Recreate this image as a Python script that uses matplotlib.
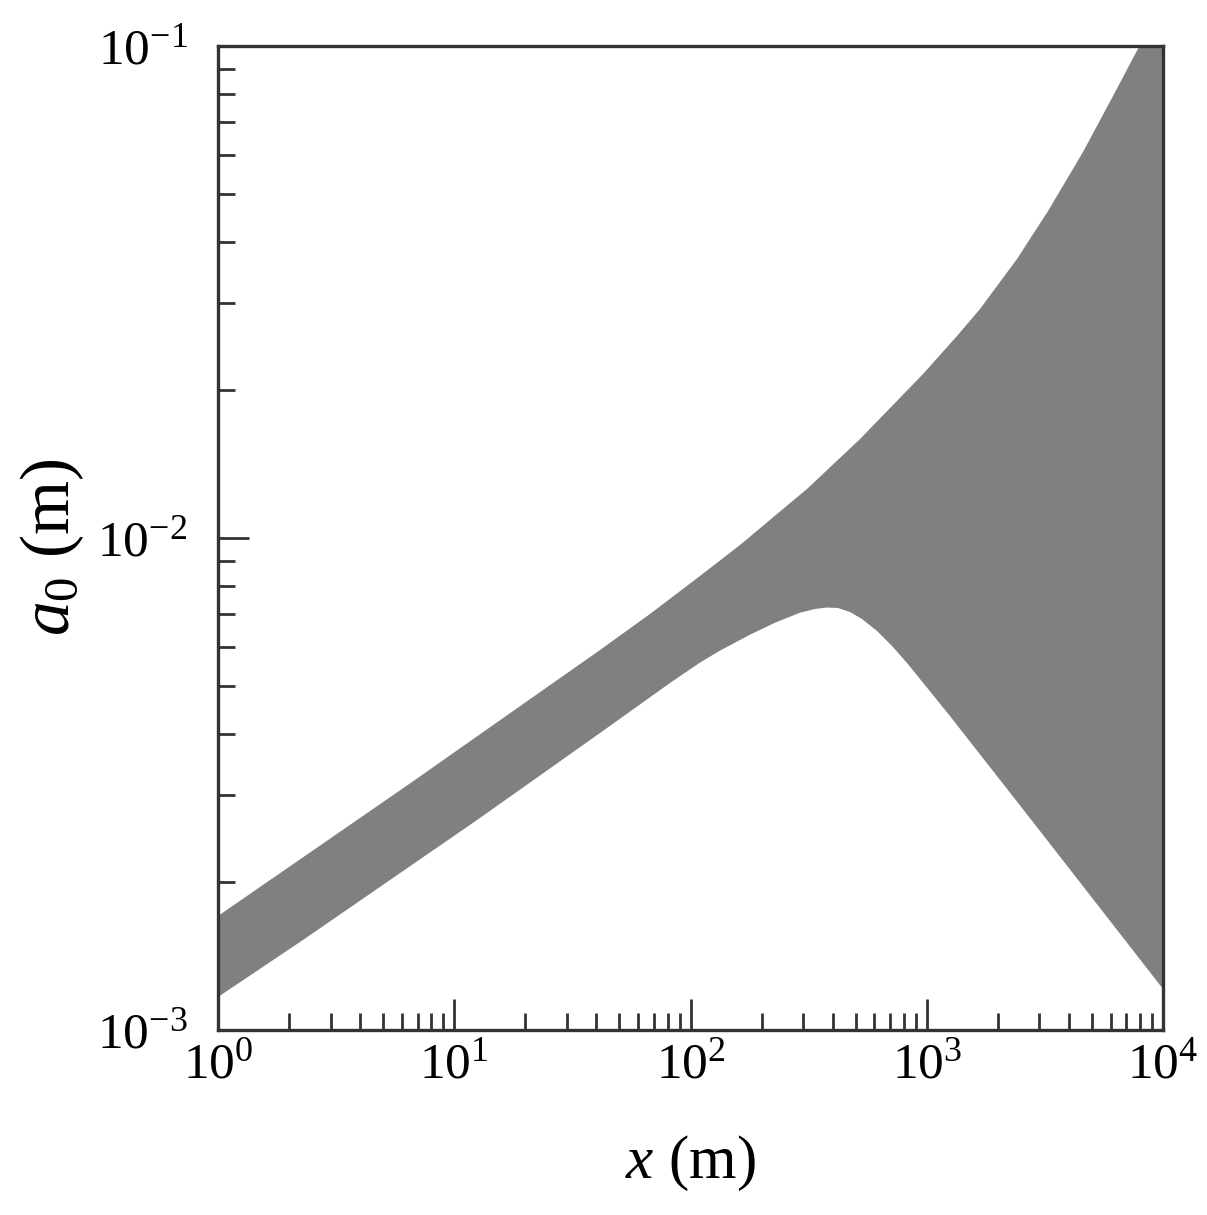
import numpy as np
import matplotlib
matplotlib.use("Agg")
import matplotlib.pyplot as plt
from matplotlib.ticker import FixedLocator, LogLocator, NullFormatter

plt.rcParams['font.family'] = ['Liberation Serif', 'DejaVu Serif']
plt.rcParams['mathtext.fontset'] = 'custom'
plt.rcParams['mathtext.rm'] = 'Liberation Serif'
plt.rcParams['mathtext.it'] = 'Liberation Serif:italic'
plt.rcParams['mathtext.bf'] = 'Liberation Serif:bold'

# Upper boundary of the shaded band
x_upper = [1.0, 6.50, 41.4, 67.4, 109.7, 162.0, 311.3, 521.9, 964.0, 1343, 1680,
           2410, 3261, 4585, 6143, 7991, 10000]
y_upper = [1.705e-3, 3.171e-3, 5.921e-3, 7.008e-3, 8.372e-3, 9.678e-3, 1.258e-2,
           1.589e-2, 2.154e-2, 2.574e-2, 2.920e-2, 3.691e-2, 4.619e-2, 6.088e-2,
           7.912e-2, 1.005e-1, 1.288e-1]

# Lower boundary of the shaded band
x_lower = [1.0, 2.290, 12.49, 41.4, 81.9, 109.7, 133.3, 178.6, 227.9, 290.7, 336.5,
           378.3, 421.0, 473.4, 532.0, 615.9, 712.8, 824.9, 1032, 1254, 2816, 10000]
y_lower = [1.167e-3, 1.524e-3, 2.672e-3, 4.015e-3, 5.074e-3, 5.582e-3, 5.903e-3,
           6.361e-3, 6.727e-3, 7.050e-3, 7.173e-3, 7.223e-3, 7.206e-3, 7.073e-3,
           6.845e-3, 6.471e-3, 6.033e-3, 5.571e-3, 4.880e-3, 4.346e-3, 2.647e-3,
           1.212e-3]

x_major = [1, 10, 100, 1000, 10000]
x_labels = [r'$10^{0}$', r'$10^{1}$', r'$10^{2}$', r'$10^{3}$', r'$10^{4}$']
y_major = [1e-3, 1e-2, 1e-1]
y_labels = [r'$10^{-3}$', r'$10^{-2}$', r'$10^{-1}$']

fig = plt.figure(figsize=(12.07, 12.15), dpi=100)
ax = fig.add_axes([218/1207, 1 - 1030/1215, (1163-218)/1207, (1030-46)/1215])

poly_x = np.concatenate([x_upper, x_lower[::-1]])
poly_y = np.concatenate([y_upper, y_lower[::-1]])
ax.fill(poly_x, poly_y, color='#808080', lw=0)

ax.set_xscale('log')
ax.set_yscale('log')
ax.set_xlim(1, 1e4)
ax.set_ylim(1e-3, 1e-1)

ax.xaxis.set_major_locator(FixedLocator(x_major))
ax.yaxis.set_major_locator(FixedLocator(y_major))
ax.set_xticklabels(x_labels)
ax.set_yticklabels(y_labels)
ax.xaxis.set_minor_locator(LogLocator(base=10, subs=np.arange(2, 10)))
ax.yaxis.set_minor_locator(LogLocator(base=10, subs=np.arange(2, 10)))
ax.xaxis.set_minor_formatter(NullFormatter())
ax.yaxis.set_minor_formatter(NullFormatter())

edge = '#333333'
for s in ax.spines.values():
    s.set_linewidth(2.4)
    s.set_color(edge)

ax.tick_params(which='both', direction='in', top=False, right=False, color=edge, width=2.0)
ax.tick_params(which='major', length=22)
ax.tick_params(which='minor', length=12)
ax.tick_params(axis='x', which='major', labelsize=37, pad=9)
ax.tick_params(axis='y', which='major', labelsize=37, pad=22)

ax.set_xlabel(r'$x$ (m)', fontsize=44)
ax.set_ylabel(r'$a_{\mathrm{0}}$ (m)', fontsize=50)
ax.xaxis.set_label_coords(0.5, -0.105)
ax.yaxis.set_label_coords(-0.14, 0.49)

fig.savefig('out.png', dpi=100, facecolor='white')
